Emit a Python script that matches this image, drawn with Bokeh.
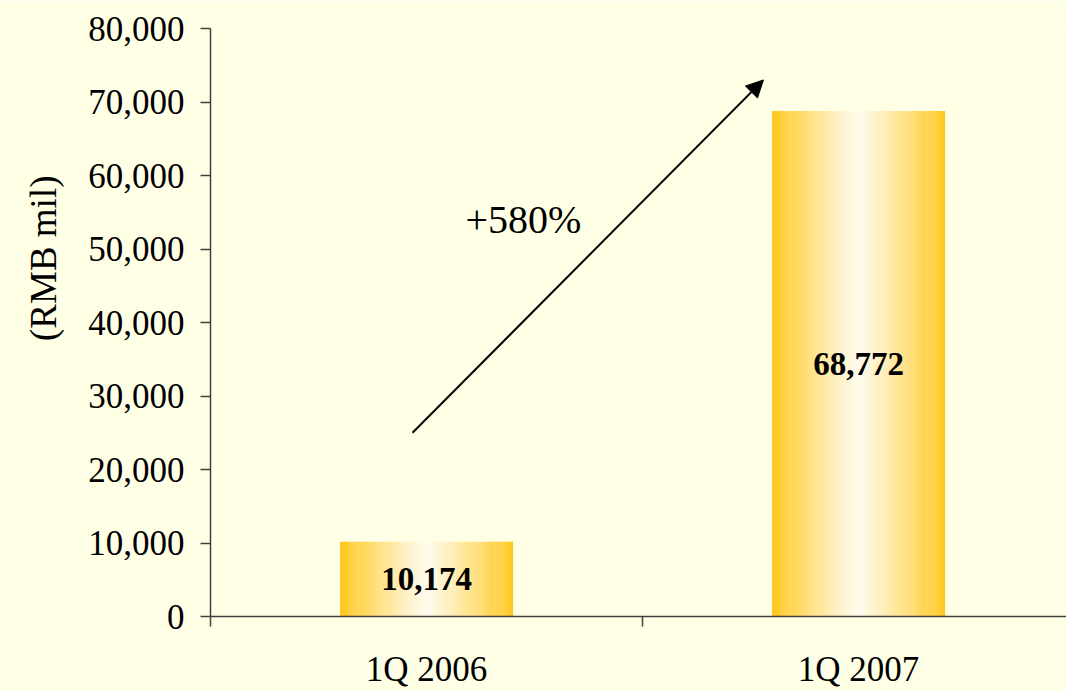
import math
from bokeh.plotting import figure
from bokeh.models import Range1d, FixedTicker, NumeralTickFormatter, Arrow, NormalHead, ColumnDataSource, Label, Title
from bokeh.embed import file_html
from bokeh.resources import INLINE
from bokeh.core.properties import value

# ---- data ----
categories = ["1Q 2006", "1Q 2007"]
values = [10174, 68772]
value_labels = ["10,174", "68,772"]
growth_label = "+580%"
y_axis_title = "(RMB mil)"
y_ticks = [0, 10000, 20000, 30000, 40000, 50000, 60000, 70000, 80000]

# ---- styling ----
BG = "#FFFFE6"
FONT = "Liberation Serif"
EDGE = (255, 199, 28)
CENTER = (255, 251, 238)
BAR_WIDTH = 0.4
N_STRIPS = 90

p = figure(width=1066, height=691,
           x_range=Range1d(0, 856 / 432), y_range=Range1d(0, 80000),
           output_backend="svg", toolbar_location=None,
           min_border_left=210, min_border_right=0,
           min_border_top=28, min_border_bottom=75)
p.background_fill_color = BG
p.border_fill_color = BG
p.outline_line_color = None
p.xgrid.visible = False
p.ygrid.visible = False

# gradient bars built from thin strips
lefts, rights, tops, colors = [], [], [], []
for i, v in enumerate(values):
    x0 = i + 0.5 - BAR_WIDTH / 2
    for k in range(N_STRIPS):
        t = (k + 0.5) / N_STRIPS
        s = abs(2 * t - 1)
        f = s ** 1.1
        c = tuple(int(round(CENTER[j] + (EDGE[j] - CENTER[j]) * f)) for j in range(3))
        lefts.append(x0 + BAR_WIDTH * k / N_STRIPS)
        rights.append(x0 + BAR_WIDTH * (k + 1) / N_STRIPS + 0.0005)
        tops.append(v)
        colors.append("#%02x%02x%02x" % c)
src = ColumnDataSource(dict(left=lefts, right=rights, top=tops, bottom=[0] * len(tops), color=colors))
p.quad(left="left", right="right", top="top", bottom="bottom", fill_color="color",
       line_color=None, source=src)

# value labels
lab_src = ColumnDataSource(dict(x=[i + 0.5 for i in range(len(values))],
                                y=[v / 2 for v in values], t=value_labels))
p.text(x="x", y="y", text="t", source=lab_src, text_font=value(FONT),
       text_font_size="33px", text_font_style="bold", text_align="center",
       text_baseline="middle", text_color="black")

# growth arrow
p.add_layout(Arrow(x_start=0.4676, y_start=25000, x_end=1.28, y_end=73000,
                   line_width=2, line_color="black",
                   end=NormalHead(size=17, fill_color="black", line_color="black")))
p.add_layout(Label(x=0.59, y=54000, text=growth_label, text_font=FONT,
                   text_font_size="40px", text_color="black", text_baseline="alphabetic"))

# y axis title as a side title (placed above frame centre, as in the original)
p.add_layout(Title(text=y_axis_title, text_font=FONT, text_font_size="37px",
                   text_font_style="normal", text_color="black", align="right",
                   vertical_align="top", offset=147, standoff=40), "left")

# x axis
xa = p.xaxis[0]
xa.ticker = FixedTicker(ticks=[i + 0.5 for i in range(len(categories))],
                        minor_ticks=list(range(len(categories) + 1)))
xa.major_label_overrides = {i + 0.5: c for i, c in enumerate(categories)}
xa.major_tick_line_color = None
xa.minor_tick_out = 10
xa.minor_tick_in = 0
xa.minor_tick_line_color = "#404040"
xa.minor_tick_line_width = 1.5
xa.axis_line_color = "#404040"
xa.axis_line_width = 1.5
xa.major_label_text_font = FONT
xa.major_label_text_font_size = "35px"
xa.major_label_text_color = "black"
xa.major_label_standoff = 23

# y axis
ya = p.yaxis[0]
ya.ticker = FixedTicker(ticks=y_ticks)
ya.formatter = NumeralTickFormatter(format="0,0")
ya.major_tick_out = 10
ya.major_tick_in = 0
ya.major_tick_line_color = "#404040"
ya.major_tick_line_width = 1.5
ya.minor_tick_line_color = None
ya.axis_line_color = "#404040"
ya.axis_line_width = 1.5
ya.major_label_text_font = FONT
ya.major_label_text_font_size = "35px"
ya.major_label_text_color = "black"
ya.major_label_standoff = 16

open("out.html", "w").write(file_html(p, INLINE))
